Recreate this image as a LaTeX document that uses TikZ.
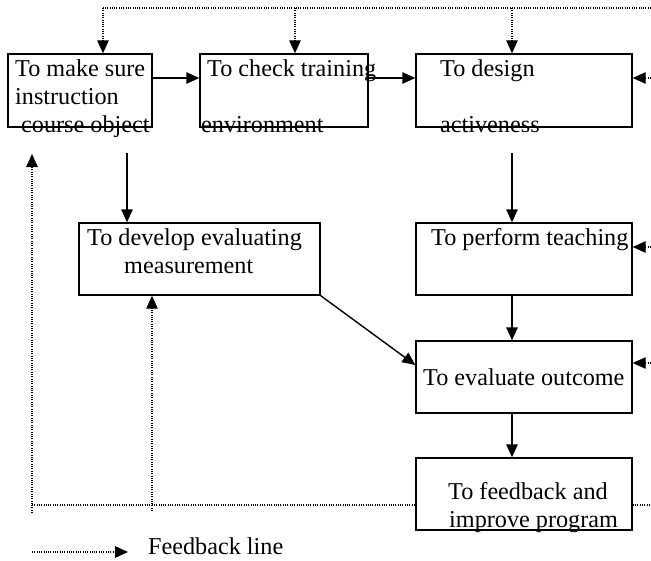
\documentclass[tikz,border=0pt]{standalone}
\usepackage{fontspec}
\setmainfont{Liberation Serif}
\usetikzlibrary{arrows.meta}
\begin{document}
\begin{tikzpicture}[x=1pt,y=-1pt,
  box/.style={draw,line width=1.4pt,inner sep=0pt,minimum height=72pt},
  txt/.style={anchor=base west,inner sep=0pt,font=\fontsize{24.2}{28}\selectfont},
  tip/.tip={Triangle[length=13pt,width=11.5pt]},
  arr/.style={line width=1.4pt,-tip},
  fb/.style={line width=1.1pt,dash pattern=on 1pt off 1.3pt},
  fbarr/.style={fb,-tip}]
\useasboundingbox (0,0) rectangle (651,560);
% boxes
\node[box,minimum width=144pt,minimum height=73pt] (b1) at (80,90.5) {};
\node[box,minimum width=168pt,minimum height=73pt] (b2) at (284,90.5) {};
\node[box,minimum width=216pt,minimum height=73pt] (b3) at (524,90.5) {};
\node[box,minimum width=241pt] (b4) at (199.5,259) {};
\node[box,minimum width=216pt] (b5) at (524,259) {};
\node[box,minimum width=216pt] (b6) at (524,377) {};
\node[box,minimum width=216pt] (b7) at (524,494) {};
% texts
\node[txt] (t1a) at (15,76) {To make sure};
\node[txt] (t1b) at (15,104) {instruction};
\node[txt] (t1c) at (21,132) {course object};
\node[txt] (t2a) at (207,76) {To check training};
\node[txt] (t2b) at (201,132) {environment};
\node[txt] (t3a) at (440,76) {To design};
\node[txt] (t3b) at (440,132) {activeness};
\node[txt] (t4a) at (87,245) {To develop evaluating};
\node[txt] (t4b) at (124,273) {measurement};
\node[txt] (t5) at (431,245) {To perform teaching};
\node[txt] (t6) at (423,385) {To evaluate outcome};
\node[txt] (t7a) at (448,499) {To feedback and};
\node[txt] (t7b) at (449,527) {improve program};
\node[txt] (leg) at (148,554) {Feedback line};
% coordinates
\coordinate (row) at (0,78);
\coordinate (s14) at (127,153);
\coordinate (s35) at (512,153);
\coordinate (topR) at (651,8);
\coordinate (d1) at (103,8);
\coordinate (d2) at (295,8);
\coordinate (d3) at (512,8);
\coordinate (r3) at (651,78);
\coordinate (r5) at (651,247);
\coordinate (r6) at (651,363);
\coordinate (bl) at (32,505);
\coordinate (br) at (651,505);
\coordinate (lv0) at (32,513);
\coordinate (lv1) at (32,154);
\coordinate (mv0) at (152,511);
\coordinate (leg0) at (32,552);
\coordinate (leg1) at (128,552);
% solid connectors
\draw[arr] (b1.east |- row) -- (b2.west |- row);
\draw[arr] (b2.east |- row) -- (b3.west |- row);
\draw[arr] (s14) -- (s14 |- b4.north);
\draw[arr] (s35) -- (s35 |- b5.north);
\draw[arr] (s35 |- b5.south) -- (s35 |- b6.north);
\draw[arr] (s35 |- b6.south) -- (s35 |- b7.north);
\draw[arr] (b4.south east) -- ([yshift=12pt]b6.west);
% feedback connectors
\draw[fb] (topR) -- (d1);
\draw[fbarr] (d1) -- (d1 |- b1.north);
\draw[fbarr] (d2) -- (d2 |- b2.north);
\draw[fbarr] (d3) -- (d3 |- b3.north);
\draw[fbarr] (r3) -- (b3.east |- r3);
\draw[fbarr] (r5) -- (b5.east |- r5);
\draw[fbarr] (r6) -- (b6.east |- r6);
\draw[fb] (bl) -- (b7.west |- bl);
\draw[fb] (b7.east |- br) -- (br);
\draw[fbarr] (lv0) -- (lv1);
\draw[fbarr] (mv0) -- (mv0 |- b4.south);
\draw[fbarr] (leg0) -- (leg1);
\end{tikzpicture}
\end{document}
